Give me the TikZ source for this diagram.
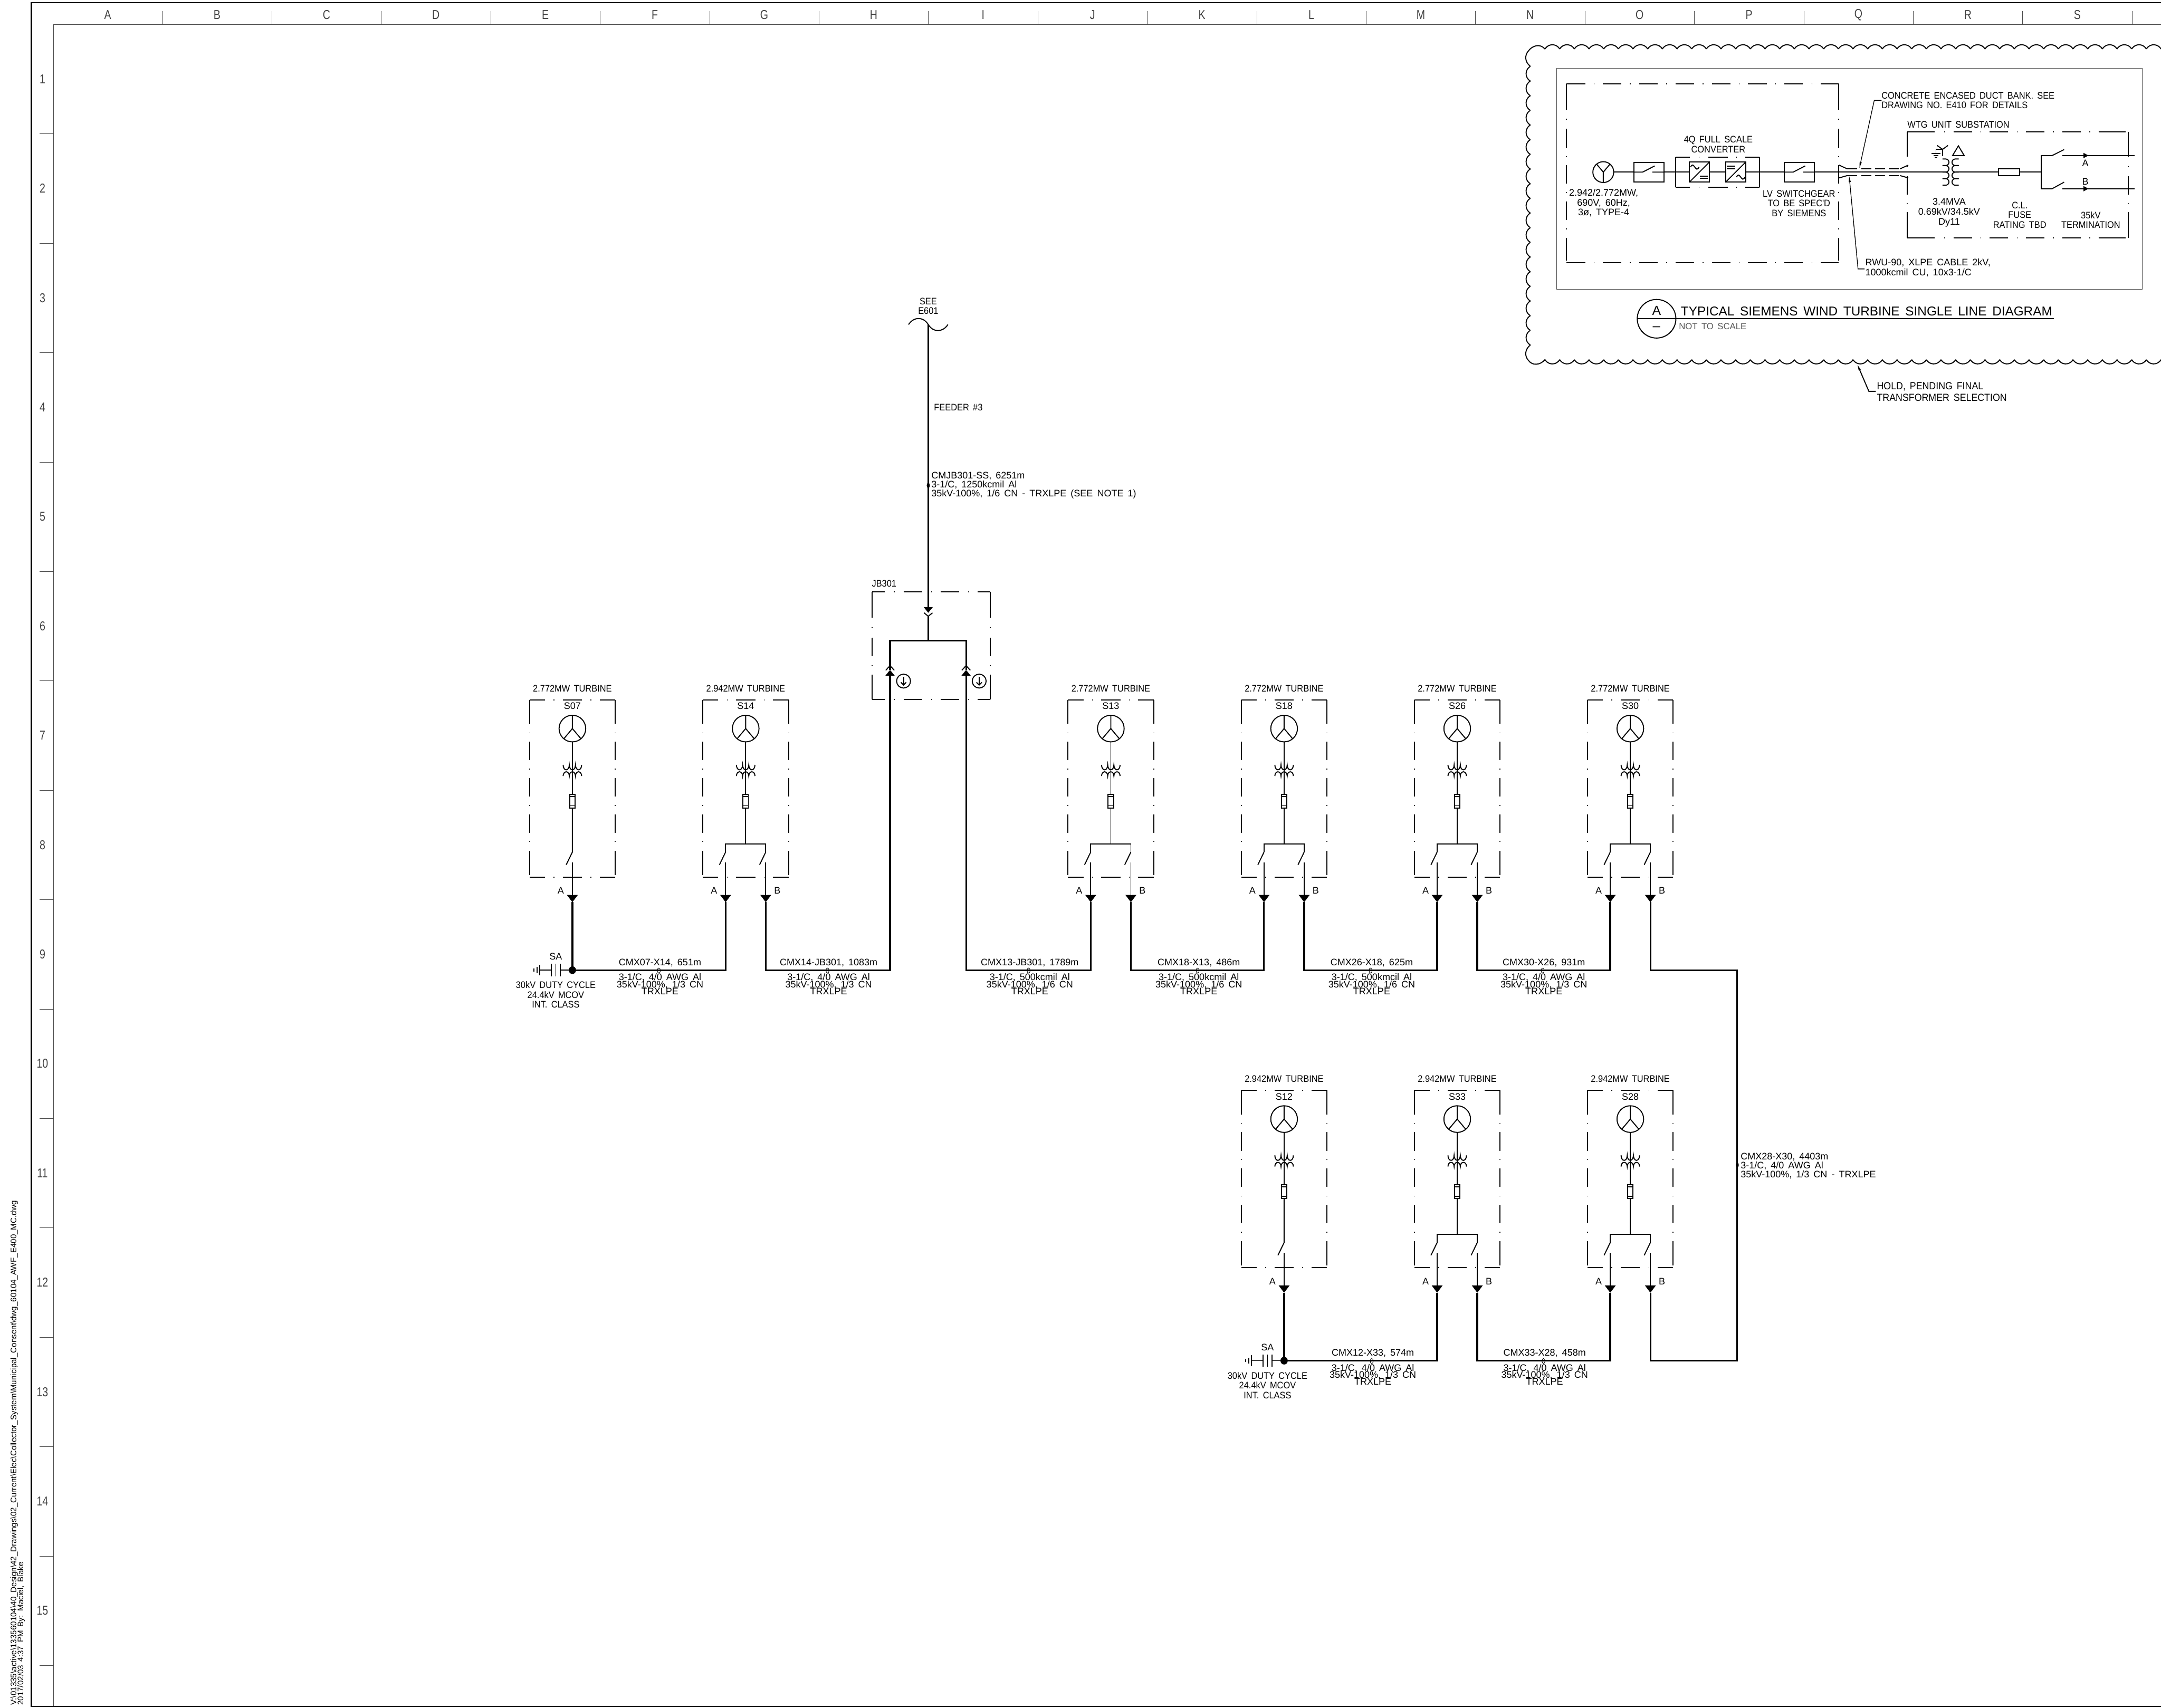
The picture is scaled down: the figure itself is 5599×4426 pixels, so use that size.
\documentclass[tikz,border=0pt]{standalone}
\usepackage{fontspec}
\setmainfont[WordSpace=1.6]{Liberation Sans}
\newfontfamily\cadthin[FakeStretch=0.8]{Liberation Sans}
\newfontfamily\cadcaps[FakeStretch=0.91,WordSpace=1.6]{Liberation Sans}
\usetikzlibrary{arrows.meta}
\newcommand\cadfont{\fontsize{7}{7.2}\selectfont\lineskiplimit=-10pt}
\newcommand\cadtight{\fontsize{7}{5.1}\selectfont\lineskiplimit=-10pt}
\newcommand\cadwide{\fontsize{7}{6.6}\selectfont\lineskiplimit=-10pt}
\newcommand\acwave[2]{\draw[thinline] (#1,#2) .. controls (#1+5,#2-9) and (#1+7,#2-5) .. (#1+11,#2) .. controls (#1+15,#2+5) and (#1+17,#2+9) .. (#1+22,#2);}
\tikzset{
    every node/.style={inner sep=0pt, outer sep=0pt},
    thinline/.style={line width=.026cm},
    busline/.style={line width=.044cm},
    hairline/.style={line width=.012cm, black!70},
    cadlabel/.style={font=\cadfont, align=center},
    capslabel/.style={font=\cadcaps\cadfont, align=center},
    cablelabel/.style={font=\cadtight, align=center},
    widelabel/.style={font=\cadwide, align=left, anchor=west},
    leftlabel/.style={font=\cadcaps\cadfont, align=left, anchor=west},
    gridlabel/.style={font=\cadthin\fontsize{9.5}{9.5}\selectfont, black!75},
    turbtop/.style={dash pattern=on .4cm off .22cm on .02cm off .22cm on .5cm off .22cm on .02cm off .22cm on .4cm off 1cm},
    turbside/.style={dash pattern=on .62cm off .22cm on .02cm off .22cm on .48cm off .22cm on .02cm off .22cm on .48cm off .22cm on .02cm off .22cm on .48cm off .22cm on .02cm off .22cm on .63cm off 1cm},
    jbtop/.style={dash pattern=on .34cm off .23cm on .02cm off .23cm on .48cm off .23cm on .02cm off .23cm on .48cm off .23cm on .02cm off .23cm on .34cm off 1cm},
    jbside/.style={dash pattern=on .66cm off .25cm on .02cm off .25cm on .48cm off .23cm on .02cm off .23cm on .65cm off 1cm},
    subtop/.style={dash pattern=on .71cm off .24cm on .02cm off .22cm on .48cm off .22cm on .02cm off .22cm on .48cm off .22cm on .02cm off .22cm on .48cm off .22cm on .02cm off .22cm on .48cm off .22cm on .02cm off .22cm on .7cm off 1cm},
    subside/.style={dash pattern=on .64cm off .24cm on .02cm off .24cm on .48cm off .22cm on .02cm off .22cm on .66cm off 1cm},
    panelside/.style={dash pattern=on .67cm off .24cm on .02cm off .24cm on .48cm off .22cm on .02cm off .22cm on .48cm off .22cm on .02cm off .22cm on .48cm off .22cm on .02cm off .22cm on .59cm off 1cm},
    dashdot/.style={dash pattern=on .48cm off .22cm on .02cm off .22cm},
    convtop/.style={dash pattern=on .37cm off .23cm on .02cm off .23cm on .5cm off .22cm on .02cm off .22cm on .37cm off 1cm},
    downtip/.style={-{Triangle[length=.19cm,width=.28cm]}},
    jbtip/.style={-{Triangle[length=.15cm,width=.23cm]}},
    leadertip/.style={-{Triangle[length=.16cm,width=.05cm]}},
    sqbox/.style={draw, thinline, rectangle, minimum width=.52cm, minimum height=.52cm},
    swbox/.style={draw, thinline, rectangle, minimum width=.78cm, minimum height=.51cm},
}
\begin{document}
\begin{tikzpicture}[x=.01cm,y=-.01cm]
    \clip (0,0) rectangle (5599,4426);
    \fill[white] (0,0) rectangle (5599,4426);

    \draw[line width=.035cm] (5700,7) -- (81,7) -- (81,4422) -- (5700,4422);
    \draw[hairline] (5700,63) -- (138,63) -- (138,4422);
    \foreach \c [count=\i from 0] in {A,...,S}{
        \node[gridlabel] (col\c) at ({279+283.5*\i},39) {\c};
        \draw[hairline] ({421+283.5*\i},29) -- ({421+283.5*\i},63);
    }
    \foreach \i in {1,...,15}{
        \node[gridlabel] (row\i) at (110,{205+283.5*(\i-1)}) {\i};
        \draw[hairline] (103,{347+283.5*(\i-1)}) -- (138,{347+283.5*(\i-1)});
    }
    \node[rotate=90, anchor=west, font=\fontsize{5.9}{6}\selectfont] (dwgpath) at (37,4419) {V:\textbackslash 01335\textbackslash active\textbackslash 133560104\textbackslash 40\_Design\textbackslash 42\_Drawings\textbackslash 02\_Current\textbackslash Elec\textbackslash Collector\_System\textbackslash Municipal\_Consent\textbackslash dwg\_60104\_AWF\_E400\_MC.dwg};
    \node[rotate=90, anchor=west, font=\fontsize{5.9}{6}\selectfont] (dwgdate) at (55,4419) {2017/02/03 4:37 PM By: Maciel, Blake};

    % turbines
    \foreach \tid/\cx/\cy/\mw/\dual in {S07/1483/1814/2.772/0, S14/1932/1814/2.942/1, S13/2878/1814/2.772/1, S18/3327/1814/2.772/1, S26/3775.5/1814/2.772/1, S30/4224/1814/2.772/1, S12/3327/2826/2.942/0, S33/3775.5/2826/2.942/1, S28/4224/2826/2.942/1}{
    \begin{scope}[shift={(\cx,\cy)}]
        \node[capslabel] (title\tid) at (0,-30) {\mw MW TURBINE};
        \node[cadlabel] (id\tid) at (0,16) {\tid};
        \draw[thinline,turbtop] (-111,0) -- (111,0);
        \draw[thinline,turbtop] (-111,459) -- (111,459);
        \draw[thinline,turbside] (-111,0) -- (-111,459);
        \draw[thinline,turbside] (111,0) -- (111,459);
        \node[circle, draw, thinline, minimum size=.69cm] (gen\tid) at (0,74) {};
        \draw[thinline] (gen\tid.north) -- (gen\tid.center) -- (gen\tid.-130);
        \draw[thinline] (gen\tid.center) -- (gen\tid.-50);
        \node[draw, thinline, minimum width=.14cm, minimum height=.36cm] (fuse\tid) at (0,262) {};
        \draw[thinline] (-7,250) -- (7,250) (-7,274) -- (7,274);
        \draw[thinline] (gen\tid.south) -- (fuse\tid.north);
        \draw[thinline] (-24,168) arc [start angle=180,end angle=0,x radius=8,y radius=13] arc [start angle=180,end angle=0,x radius=8,y radius=13] arc [start angle=180,end angle=0,x radius=8,y radius=13];
        \draw[thinline] (-24,197) arc [start angle=180,end angle=360,x radius=8,y radius=11] arc [start angle=180,end angle=360,x radius=8,y radius=11] arc [start angle=180,end angle=360,x radius=8,y radius=11];
        \ifnum\dual=1
            \coordinate (\tid A) at (-52,524);
            \coordinate (\tid B) at (52,524);
            \draw[thinline] (fuse\tid.south) -- (0,373);
            \draw[thinline] (-52,394) -- (-52,373) -- (52,373) -- (52,394);
            \draw[thinline] (-52,394) -- (-68,427);
            \draw[thinline] (52,394) -- (36,427);
            \draw[thinline,downtip] (-52,421) -- (\tid A);
            \draw[thinline,downtip] (52,421) -- (\tid B);
            \node[cadlabel] (lbl\tid A) at (-82,494) {A};
            \node[cadlabel] (lbl\tid B) at (82,494) {B};
        \else
            \coordinate (\tid A) at (0,524);
            \draw[thinline] (fuse\tid.south) -- (0,394) -- (-16,427);
            \draw[thinline,downtip] (0,421) -- (\tid A);
            \node[cadlabel] (lbl\tid A) at (-30,494) {A};
        \fi
    \end{scope}
    }

    % collector cables
    \coordinate (busup) at (0,2514);
    \coordinate (busdn) at (0,3526);
    \coordinate (JBL) at (2306,1736);
    \coordinate (JBR) at (2503,1736);
    \coordinate (JBbar) at (2405,1660);
    \coordinate (cmx28) at (4501,3019);
    \draw[busline] (S07A) -- (S07A |- busup) -| (S14A);
    \draw[busline,jbtip] (S14B) -- (S14B |- busup) -| (JBL);
    \draw[busline,jbtip] (S13A) -- (S13A |- busup) -| (JBR);
    \draw[busline] (S13B) -- (S13B |- busup) -| (S18A);
    \draw[busline] (S18B) -- (S18B |- busup) -| (S26A);
    \draw[busline] (S26B) -- (S26B |- busup) -| (S30A);
    \draw[busline] (S30B) -- (S30B |- busup) -| (cmx28) |- (S28B |- busdn) -- (S28B);
    \draw[busline] (S12A) -- (S12A |- busdn) -| (S33A);
    \draw[busline] (S33B) -- (S33B |- busdn) -| (S28A);

    \def\cabfour{3-1/C, 4/0 AWG Al\\35kV-100\%, 1/3 CN\\TRXLPE}
    \def\cabfive{3-1/C, 500kcmil Al\\35kV-100\%, 1/6 CN\\TRXLPE}
    \def\cabtypo{3-1/C, 500kmcil Al\\35kV-100\%, 1/6 CN\\TRXLPE}
    \foreach \cid/\cx/\cy/\cname/\csize in {
        A/1710/2514/{CMX07-X14, 651m}/\cabfour,
        B/2147/2514/{CMX14-JB301, 1083m}/\cabfour,
        C/2668/2514/{CMX13-JB301, 1789m}/\cabfive,
        D/3106/2514/{CMX18-X13, 486m}/\cabfive,
        E/3554/2514/{CMX26-X18, 625m}/\cabtypo,
        F/4000/2514/{CMX30-X26, 931m}/\cabfour,
        G/3557/3526/{CMX12-X33, 574m}/\cabfour,
        H/4002/3526/{CMX33-X28, 458m}/\cabfour}{
        \node[cadlabel] (name\cid) at (\cx,\cy-19) {\cname};
        \node[cablelabel] (size\cid) at (\cx,\cy+36) {\csize};
        \draw[line width=.012cm] (\cx-3,\cy+1) ellipse (4 and 6.5);
    }

    % surge arresters
    \foreach \sid/\cx/\cy in {S07/1483/2514, S12/3327/3526}{
    \begin{scope}[shift={(\cx,\cy)}]
        \fill (0,0) ellipse (9.5 and 10);
        \draw[thinline] (0,0) -- (-31,0) (-54,0) -- (-85,0);
        \draw[thinline] (-31,-16) -- (-31,16) (-43,-16) -- (-43,16) (-54,-16) -- (-54,16);
        \draw[thinline] (-85,-14) -- (-85,14) (-92,-8) -- (-92,8) (-100,-4) -- (-100,4);
        \node[cadlabel] (sa\sid) at (-43,-35) {SA};
        \node[capslabel] (duty\sid) at (-43,64) {30kV DUTY CYCLE\\24.4kV MCOV\\INT. CLASS};
    \end{scope}
    }

    % feeder and junction box
    \coordinate (feedtop) at (2405,841);
    \coordinate (feedtip) at (2405,1588);
    \draw[busline,jbtip] (feedtop) -- (feedtip);
    \draw[thinline] (2354,841) .. controls (2368,820) and (2392,820) .. (feedtop) .. controls (2418,862) and (2442,862) .. (2456,841);
    \draw[busline] (2405,1597) -- (JBbar);
    \draw[thinline] (2394,1588) -- (2405,1597) -- (2416,1588);
    \draw[busline] (JBL) |- (JBbar) -| (JBR);
    \draw[thinline] (2295,1737) -- (2306,1725) -- (2317,1737);
    \draw[thinline] (2492,1737) -- (2503,1725) -- (2514,1737);
    \draw[thinline,jbtop] (2259,1534) -- (2566,1534);
    \draw[thinline,jbtop] (2259,1813) -- (2566,1813);
    \draw[thinline,jbside] (2259,1534) -- (2259,1813);
    \draw[thinline,jbside] (2566,1534) -- (2566,1813);
    \foreach \gid/\gx in {L/2341, R/2537}{
        \node[circle, draw, thinline, minimum size=.36cm] (gnd\gid) at (\gx,1765) {};
        \draw[thinline,-{Straight Barb[length=.07cm,width=.14cm]}] (\gx,1754) -- (\gx,1777);
    }
    \fill (2405,1258) ellipse (4 and 7);
    \fill (cmx28) ellipse (4 and 7);
    \node[capslabel] (seesheet) at (2405,793) {SEE\\E601};
    \node[leftlabel] (feederno) at (2420,1056) {FEEDER \#3};
    \node[leftlabel] (jbname) at (2259,1512) {JB301};
    \node[widelabel] (feedcable) at (2413,1258) {CMJB301-SS, 6251m\\3-1/C, 1250kcmil Al\\35kV-100\%, 1/6 CN - TRXLPE (SEE NOTE 1)};
    \node[widelabel] (tiecable) at (4510,3021) {CMX28-X30, 4403m\\3-1/C, 4/0 AWG Al\\35kV-100\%, 1/3 CN - TRXLPE};

    % revision cloud
    \foreach \lx in {4003,4041,...,5620}{
        \draw[thinline] (\lx,127) arc (210:330:22);
        \draw[thinline] (\lx,932) arc (150:30:22);
    }
    \foreach \ly in {172,210,...,860}{
        \draw[thinline] (3965,\ly) arc (240:120:22);
    }
    \draw[thinline] (3965,172) .. controls (3950,160) and (3950,143) .. (3960,132) .. controls (3970,118) and (3990,112) .. (4003,127);
    \draw[thinline] (3965,894) .. controls (3950,906) and (3950,923) .. (3960,934) .. controls (3970,948) and (3990,947) .. (4003,932);
    \coordinate (holdknee) at (4842,1014);
    \draw[thinline,leadertip] (4860,1014) -- (holdknee) -- (4812,944);
    \node[leftlabel, font=\cadcaps\fontsize{7.6}{8.7}\selectfont] (holdnote) at (4863,1015) {HOLD, PENDING FINAL\\TRANSFORMER SELECTION};

    % detail A
    \draw[hairline] (4033,177) rectangle (5551,750);
    \draw[thinline,dashdot] (4059,217) -- (4764,217);
    \draw[thinline,dashdot] (4059,681) -- (4764,681);
    \draw[thinline,panelside] (4059,217) -- (4059,681);
    \draw[thinline,panelside] (4764,217) -- (4764,681);
    \draw[thinline,subtop] (4942,342) -- (5514,342);
    \draw[thinline,subtop] (4942,616) -- (5514,616);
    \draw[thinline,subside] (4942,342) -- (4942,616);
    \draw[thinline,subside] (5514,342) -- (5514,616);
    \draw[thinline,convtop] (4341,407) -- (4559,407);
    \draw[thinline,convtop] (4341,485) -- (4559,485);
    \draw[thinline] (4341,407) -- (4341,485) (4559,407) -- (4559,485);

    \node[circle, draw, thinline, minimum size=.54cm] (genT) at (4154,446) {};
    \draw[thinline] (genT.south) -- (genT.center) -- (genT.130);
    \draw[thinline] (genT.center) -- (genT.50);
    \node[swbox] (brkG) at (4272,446) {};
    \node[sqbox] (conv1) at (4403,446) {};
    \node[sqbox] (conv2) at (4497,446) {};
    \node[swbox] (brkLV) at (4662,446) {};
    \node[draw, thinline, minimum width=.54cm, minimum height=.18cm] (fuseT) at (5205,446) {};
    \coordinate (coilL) at (5041,446);
    \coordinate (coilR) at (5067,446);
    \coordinate (busT) at (5289,446);
    \coordinate (termA) at (5531,403);
    \coordinate (termB) at (5531,489);
    \draw[thinline] (genT.east) -- (brkG.west);
    \draw[thinline] (brkG.east) -- (conv1.west);
    \draw[thinline] (conv1.east) -- (conv2.west);
    \draw[thinline] (conv2.east) -- (brkLV.west);
    \draw[thinline] (brkLV.east) -- (coilL);
    \draw[thinline] (coilR) -- (fuseT.west);
    \draw[thinline] (fuseT.east) -- (busT);
    \draw[thinline] (conv1.south west) -- (conv1.north east);
    \draw[thinline] (conv2.south west) -- (conv2.north east);
    \acwave{4380}{433}
    \acwave{4499}{459}
    \draw[thinline] (4404,456) -- (4425,456) (4404,462) -- (4425,462);
    \draw[thinline] (4474,431) -- (4496,431) (4474,437) -- (4496,437);
    \draw[thinline] (brkG.west) -- (4256,446) -- (4287,430) (4281,446) -- (brkG.east);
    \draw[thinline] (brkLV.west) -- (4646,446) -- (4677,430) (4672,446) -- (brkLV.east);

    \foreach \ky in {412,429,446,463}{
        \draw[thinline] (5033,\ky) -- (5041,\ky) arc (-90:90:8.5) -- (5033,\ky+17);
        \draw[thinline] (5075,\ky) -- (5066,\ky) arc (270:90:8.5) -- (5075,\ky+17);
    }
    \draw[thinline] (5019,377) -- (5033,387) -- (5047,377) (5033,387) -- (5033,404);
    \draw[thinline] (5033,387) -- (5016,387) -- (5016,398);
    \draw[thinline] (5005,398) -- (5027,398) (5010,403) -- (5022,403) (5013,408) -- (5019,408);
    \draw[thinline] (5074,378) -- (5059,403) -- (5089,403) -- cycle;

    \draw[thinline] (5317,403) -- (5289,403) -- (5289,489) -- (5317,489);
    \draw[thinline] (5317,403) -- (5348,387.5) (5317,489) -- (5348,472);
    \draw[thinline] (5343,403) -- (termA) (5343,489) -- (termB);
    \fill (5398,396) -- (5411,403) -- (5398,410) -- cycle;
    \fill (5398,482) -- (5411,489) -- (5398,496) -- cycle;
    \node[cadlabel] (lblA) at (5403,423) {A};
    \node[cadlabel] (lblB) at (5403,471) {B};

    \draw[thinline] (4765,428) -- (4786,437.5) (4923,437.5) -- (4944,428);
    \draw[thinline] (4765,461) -- (4786,455) (4923,455) -- (4944,461);
    \draw[thinline,dash pattern=on .26cm off .1cm] (4786,437.5) -- (4923,437.5);
    \draw[thinline,dash pattern=on .26cm off .1cm] (4786,455) -- (4923,455);

    \coordinate (ductknee) at (4856,260);
    \coordinate (rwuknee) at (4814,697);
    \draw[line width=.018cm,leadertip] (4875,260) -- (ductknee) -- (4817.5,435.6);
    \draw[line width=.018cm,leadertip] (4831,697) -- (rwuknee) -- (4791,456);
    \node[leftlabel] (ductnote) at (4875,260) {CONCRETE ENCASED DUCT BANK. SEE\\DRAWING NO. E410 FOR DETAILS};
    \node[leftlabel, font=\cadfont] (rwunote) at (4833,694) {RWU-90, XLPE CABLE 2kV,\\1000kcmil CU, 10x3-1/C};
    \node[capslabel] (convlbl) at (4452,374) {4Q FULL SCALE\\CONVERTER};
    \node[cadlabel] (genlbl) at (4155,526) {2.942/2.772MW,\\690V, 60Hz,\\3ø, TYPE-4};
    \node[capslabel] (lvlbl) at (4661,527) {LV SWITCHGEAR\\TO BE SPEC'D\\BY SIEMENS};
    \node[leftlabel] (wtglbl) at (4942,323) {WTG UNIT SUBSTATION};
    \node[cadlabel] (xfmrlbl) at (5050,551) {3.4MVA\\0.69kV/34.5kV\\Dy11};
    \node[capslabel] (fuselbl) at (5233,557) {C.L.\\FUSE\\RATING TBD};
    \node[capslabel] (termlbl) at (5417,570) {35kV\\TERMINATION};

    \node[circle, draw, thinline, minimum size=1cm] (bubble) at (4292,826) {};
    \coordinate (titleend) at (5322,826);
    \draw[thinline] (bubble.west) -- (titleend);
    \node[font=\fontsize{9.7}{10}\selectfont] (bubbleA) at (4292,805) {A};
    \node[font=\fontsize{10}{10}\selectfont] (bubbleB) at (4292,852) {--};
    \node[anchor=west, font=\fontsize{9.45}{9.7}\selectfont] (detailtitle) at (4355,806) {TYPICAL SIEMENS WIND TURBINE SINGLE LINE DIAGRAM};
    \node[anchor=west, font=\fontsize{6.5}{6.5}\selectfont, black!65] (detailscale) at (4350,846) {NOT TO SCALE};
\end{tikzpicture}
\end{document}
